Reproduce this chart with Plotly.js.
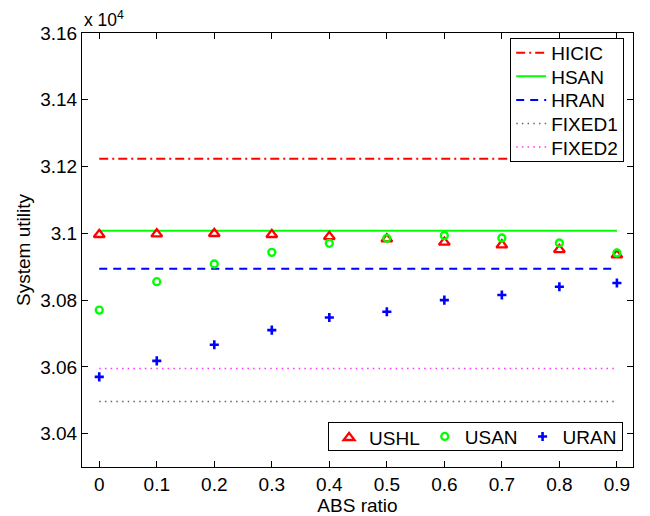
<!DOCTYPE html>
<html>
<head>
<meta charset="utf-8">
<script src="https://cdn.plot.ly/plotly-3.0.1.min.js"></script>
<style>html,body{margin:0;padding:0;background:#fff;}#chart{width:650px;height:516px;}</style>
</head>
<body>
<div id="chart"></div>
<script>
// ABS ratio (x axis)
const absRatio = [0, 0.1, 0.2, 0.3, 0.4, 0.5, 0.6, 0.7, 0.8, 0.9];

// Constant (horizontal) reference schemes
const hicic  = [31223, 31223, 31223, 31223, 31223, 31223, 31223, 31223, 31223, 31223];
const hsan   = [31008, 31008, 31008, 31008, 31008, 31008, 31008, 31008, 31008, 31008];
const hran   = [30894, 30894, 30894, 30894, 30894, 30894, 30894, 30894, 30894, 30894];
const fixed1 = [30496, 30496, 30496, 30496, 30496, 30496, 30496, 30496, 30496, 30496];
const fixed2 = [30595, 30595, 30595, 30595, 30595, 30595, 30595, 30595, 30595, 30595];

// Marker series
const ushl = [30996, 30998, 30999, 30996, 30990, 30983, 30973, 30965, 30951, 30935];
const usan = [30770, 30855, 30908, 30943, 30970, 30985, 30993, 30986, 30971, 30941];
const uran = [30570, 30618, 30666, 30710, 30748, 30765, 30800, 30815, 30840, 30851];

// Tick labels
const yTickVals = [30400, 30600, 30800, 31000, 31200, 31400, 31600];
const yTickText = ['3.04', '3.06', '3.08', '3.1', '3.12', '3.14', '3.16'];
const xTickVals = [0, 0.1, 0.2, 0.3, 0.4, 0.5, 0.6, 0.7, 0.8, 0.9];
const xTickText = ['0', '0.1', '0.2', '0.3', '0.4', '0.5', '0.6', '0.7', '0.8', '0.9'];

const FONT = 'Liberation Sans, Arial, sans-serif';
const FS = 19;

const traces = [
  {x: absRatio, y: hicic, name: 'HICIC', mode: 'lines', legend: 'legend',
   line: {color: '#ff0000', width: 2, dash: '9px,4px,2px,4px'}},
  {x: absRatio, y: hsan, name: 'HSAN', mode: 'lines', legend: 'legend',
   line: {color: '#00ff00', width: 2}},
  {x: absRatio, y: hran, name: 'HRAN', mode: 'lines', legend: 'legend',
   line: {color: '#0000ff', width: 2, dash: '8px,6px'}},
  {x: absRatio, y: fixed1, name: 'FIXED1', mode: 'lines', legend: 'legend',
   line: {color: '#666666', width: 1.5, dash: '1.5px,4.2px'}},
  {x: absRatio, y: fixed2, name: 'FIXED2', mode: 'lines', legend: 'legend',
   line: {color: '#ff33ff', width: 1.5, dash: '1.5px,4.2px'}},
  {x: absRatio, y: ushl, name: 'USHL', mode: 'markers', legend: 'legend2',
   marker: {symbol: 'triangle-up-open', size: 9.5, color: '#ff0000', line: {width: 2.3, color: '#ff0000'}}},
  {x: absRatio, y: usan, name: 'USAN', mode: 'markers', legend: 'legend2',
   marker: {symbol: 'circle-open', size: 7, color: '#00ff00', line: {width: 2.3, color: '#00ff00'}}},
  {x: absRatio, y: uran, name: 'URAN', mode: 'markers', legend: 'legend2',
   marker: {symbol: 'cross-thin-open', size: 6.5, color: '#0000ff', line: {width: 2.6, color: '#0000ff'}}}
];

const layout = {
  width: 650, height: 516,
  margin: {l: 82, r: 17, t: 33, b: 49, pad: 0},
  paper_bgcolor: '#ffffff', plot_bgcolor: '#ffffff',
  font: {family: FONT, size: FS, color: '#000'},
  showlegend: true,
  xaxis: {
    range: [-0.03, 0.928], tickvals: xTickVals, ticktext: xTickText,
    ticks: 'inside', ticklen: 6, tickwidth: 1, tickcolor: '#000',
    showline: true, linecolor: '#000', linewidth: 1, mirror: 'ticks',
    showgrid: false, zeroline: false,
    tickfont: {family: FONT, size: FS},
    title: {text: 'ABS ratio', font: {family: FONT, size: FS}, standoff: 0}
  },
  yaxis: {
    range: [30300, 31600], tickvals: yTickVals, ticktext: yTickText,
    ticks: 'inside', ticklen: 6, tickwidth: 1, tickcolor: '#000',
    showline: true, linecolor: '#000', linewidth: 1, mirror: 'ticks',
    showgrid: false, zeroline: false,
    tickfont: {family: FONT, size: FS},
    title: {text: 'System utility', font: {family: FONT, size: FS}, standoff: 4}
  },
  legend: {
    x: 0.984, y: 0.988, xanchor: 'right', yanchor: 'top',
    bgcolor: '#ffffff', bordercolor: '#000', borderwidth: 1,
    font: {family: FONT, size: FS}, orientation: 'v',
    tracegroupgap: 0, itemwidth: 30
  },
  legend2: {
    x: 0.982, y: 0.037, xanchor: 'right', yanchor: 'bottom',
    bgcolor: '#ffffff', bordercolor: '#000', borderwidth: 1,
    font: {family: FONT, size: FS}, orientation: 'h', itemwidth: 30
  },
  annotations: [{
    xref: 'paper', yref: 'paper', x: 0, y: 1, xanchor: 'left', yanchor: 'bottom',
    yshift: 1, showarrow: false,
    text: 'x 10<sup>4</sup>', font: {family: FONT, size: 17.5, color: '#000'}
  }]
};

function parseT(el) {
  const t = el.getAttribute('transform') || '';
  const m = t.match(/translate\(\s*([-\d.eE]+)[ ,]+([-\d.eE]+)\s*\)/);
  return m ? [parseFloat(m[1]), parseFloat(m[2])] : [0, 0];
}
function itemCenter(item) {
  const ref = item.querySelector('g.layers') || item;
  const r = ref.getBoundingClientRect();
  return r.top + r.height / 2;
}
// Tighten legend box heights / item spacing to match the MATLAB-style legends
function tighten(gd) {
  const leg1 = gd.querySelector('g.legend');
  if (leg1) {
    const bg = leg1.querySelector('rect.bg');
    const top = bg.getBoundingClientRect().top;
    const items = leg1.querySelectorAll('g.traces');
    const spacing = 23.6, pad = 14;
    items.forEach((it, i) => {
      const [x, y] = parseT(it);
      const d = (top + pad + i * spacing) - itemCenter(it);
      it.setAttribute('transform', 'translate(' + x + ',' + (y + d) + ')');
    });
    bg.setAttribute('height', 2 * pad + (items.length - 1) * spacing);
  }
  const leg2 = gd.querySelector('g.legend2');
  if (leg2) {
    const bg = leg2.querySelector('rect.bg');
    const r = bg.getBoundingClientRect();
    const H = 28;
    const newTop = r.bottom - H;
    const by = parseFloat(bg.getAttribute('y') || 0);
    bg.setAttribute('y', by + (r.height - H));
    bg.setAttribute('height', H);
    leg2.querySelectorAll('g.traces').forEach(it => {
      const [x, y] = parseT(it);
      const d = (newTop + H / 2) - itemCenter(it);
      it.setAttribute('transform', 'translate(' + x + ',' + (y + d) + ')');
    });
  }
}

Plotly.newPlot('chart', traces, layout, {displayModeBar: false, staticPlot: true})
  .then(gd => tighten(gd));
</script>
</body>
</html>
